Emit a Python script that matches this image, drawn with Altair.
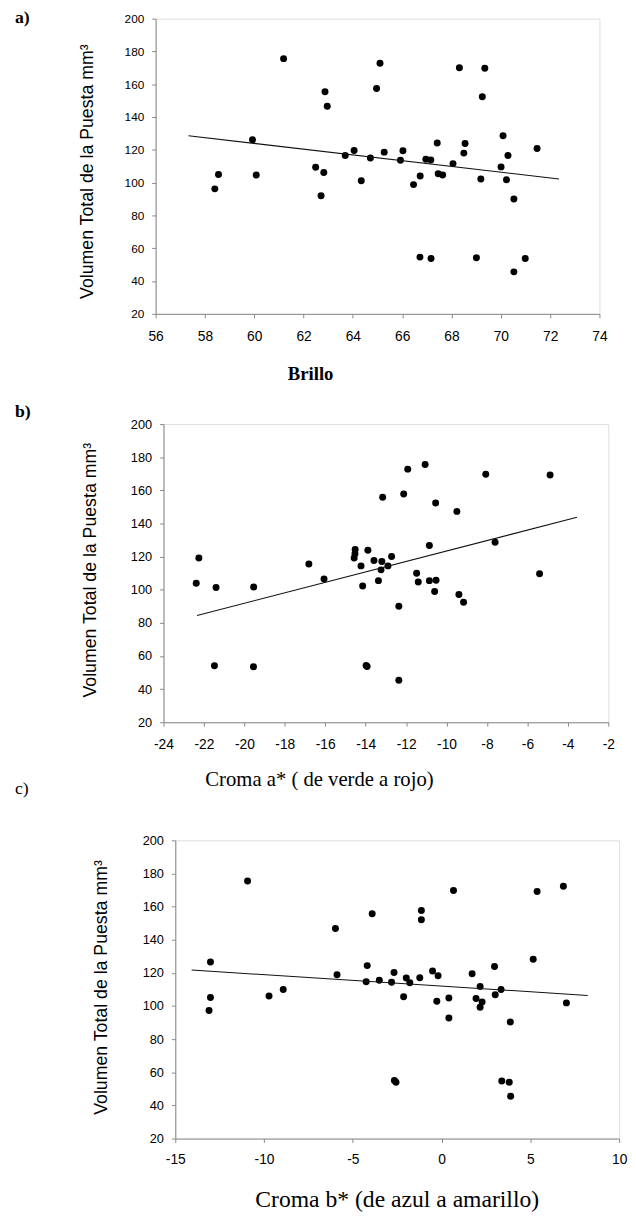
import altair as alt
import pandas as pd

# ---------------- data ----------------
brillo = [61.19, 65.10, 68.32, 69.35, 62.87, 64.96, 69.25, 62.96, 59.93, 70.09, 67.42, 68.55,
          71.47, 64.05, 65.27, 66.03, 63.69, 68.50, 70.29, 64.71, 65.93, 66.96, 67.16, 68.06,
          70.01, 62.49, 62.82, 58.55, 60.08, 67.46, 67.64, 66.73, 64.34, 69.19, 70.23, 58.40,
          66.46, 62.71, 70.53, 66.72, 67.17, 69.01, 70.99, 70.53]
vol_a = [175.6, 172.8, 170.0, 169.8, 155.4, 157.4, 152.4, 146.6, 126.2, 128.6, 124.2, 123.8,
         120.8, 119.6, 118.6, 119.4, 116.6, 118.0, 116.6, 115.0, 113.6, 114.2, 113.8, 111.6,
         109.6, 109.4, 106.2, 105.0, 104.6, 105.4, 104.6, 104.0, 101.2, 102.2, 101.8, 96.2,
         98.8, 92.0, 90.0, 54.6, 53.8, 54.2, 53.8, 45.6]
trend_a_x = [57.33, 72.36]
trend_a_y = [128.6, 102.2]

croma_a = [-22.25, -22.38, -21.40, -19.54, -21.48, -19.55, -16.81, -16.06, -14.52, -14.53,
           -14.57, -13.89, -14.23, -14.15, -13.59, -13.20, -13.24, -12.90, -12.72, -13.37,
           -13.98, -13.93, -12.36, -12.36, -13.16, -12.12, -11.92, -11.06, -10.54, -9.49,
           -10.85, -11.48, -11.40, -10.85, -10.52, -10.59, -9.39, -9.16, -8.06, -7.60,
           -4.88, -5.40]
vol_b = [119.1, 103.9, 101.3, 101.7, 54.1, 53.5, 115.6, 106.5, 124.3, 121.7,
         119.1, 123.9, 114.4, 102.3, 117.6, 117.0, 112.0, 114.4, 120.1, 105.5,
         54.3, 53.7, 90.0, 45.4, 155.8, 157.8, 172.8, 175.6, 152.4, 147.3,
         126.7, 110.0, 104.7, 105.5, 105.7, 98.9, 97.1, 92.4, 169.7, 128.7,
         169.3, 109.6]
trend_b_x = [-22.34, -3.55]
trend_b_y = [84.5, 143.7]

croma_b = [-13.02, -13.02, -13.10, -10.93, -9.72, -8.92, -5.98, -5.89, -3.91, -4.19,
           -4.25, -3.51, -2.82, -2.68, -2.14, -1.99, -1.79, -1.23, -1.14, -1.14,
           -0.51, -0.20, -0.27, 0.41, 0.41, 0.67, 1.72, 1.94, 2.17, 2.28,
           2.17, 2.98, 3.02, 3.35, 3.87, 5.16, 5.38, 6.86, 7.03, -2.66,
           -2.57, 3.39, 3.81, 3.89]
vol_c = [126.6, 105.2, 97.3, 175.5, 106.0, 110.0, 146.8, 118.9, 155.7, 124.4,
         114.7, 115.5, 114.3, 120.3, 105.6, 116.9, 114.1, 117.1, 157.7, 152.1,
         121.1, 118.3, 102.9, 104.8, 92.8, 169.7, 119.5, 104.6, 111.8, 102.5,
         99.3, 123.8, 106.8, 110.0, 90.4, 128.2, 169.1, 172.3, 101.9, 55.0,
         54.0, 54.8, 54.0, 45.5]
trend_c_x = [-14.08, 8.23]
trend_c_y = [121.7, 106.4]

y_ticks = [20, 40, 60, 80, 100, 120, 140, 160, 180, 200]
x_ticks_a = [56, 58, 60, 62, 64, 66, 68, 70, 72, 74]
x_ticks_b = [-24, -22, -20, -18, -16, -14, -12, -10, -8, -6, -4, -2]
x_ticks_c = [-15, -10, -5, 0, 5, 10]

Y_TITLE = "Volumen Total de la Puesta mm³"
HYPHEN = "replace(datum.label, '\u2212', '-')"


def panel(xs, ys, tx, ty, xdom, xticks, xtitle, label, w, h, *,
          xtitle_x, xtitle_y, xtitle_size, xtitle_weight, x_lab_pad,
          ytitle_x, ytitle_y, y_lab_size, x_lab_size, lab_x, lab_y, lab_weight,
          lab_weight_axis="normal"):
    pts_df = pd.DataFrame({"x": xs, "y": ys})
    tr_df = pd.DataFrame({"x": tx, "y": ty})
    xenc = alt.X("x:Q",
                 scale=alt.Scale(domain=xdom, nice=False, zero=False),
                 axis=alt.Axis(values=xticks, title=xtitle, grid=False, tickSize=4,
                               labelPadding=x_lab_pad, labelFontSize=x_lab_size,
                               labelFont="Liberation Sans", labelFontWeight=lab_weight_axis,
                               labelColor="black", labelFlush=False, labelExpr=HYPHEN,
                               titleFont="Liberation Serif", titleFontSize=xtitle_size,
                               titleFontWeight=xtitle_weight, titleColor="black",
                               titleX=xtitle_x, titleY=xtitle_y, titleBaseline="middle",
                               titleAlign="center", titleAngle=0))
    yenc = alt.Y("y:Q",
                 scale=alt.Scale(domain=[20, 200], nice=False, zero=False),
                 axis=alt.Axis(values=y_ticks, title=Y_TITLE, grid=False, tickSize=4,
                               labelPadding=8, labelFontSize=y_lab_size,
                               labelFont="Liberation Sans", labelFontWeight=lab_weight_axis,
                               labelColor="black",
                               titleFont="Liberation Sans", titleFontSize=18,
                               titleFontWeight="normal", titleColor="black",
                               titleX=ytitle_x, titleY=ytitle_y, titleBaseline="middle",
                               titleAlign="center", titleAngle=270))
    pts = alt.Chart(pts_df).mark_circle(size=50, color="black", opacity=1).encode(x=xenc, y=yenc)
    line = alt.Chart(tr_df).mark_line(color="#111111", strokeWidth=1.1).encode(x=xenc, y=yenc)
    lab = alt.Chart(pd.DataFrame({"t": [label]})).mark_text(
        align="left", baseline="middle", font="Liberation Serif", fontSize=18,
        fontWeight=lab_weight, color="black"
    ).encode(text="t:N", x=alt.value(lab_x), y=alt.value(lab_y))
    return alt.layer(pts, line, lab).properties(width=w, height=h)


def spacer():
    return alt.Chart(pd.DataFrame({"v": [0]})).mark_point(opacity=0, size=1).encode(
        x=alt.value(0), y=alt.value(0)
    ).properties(width=1, height=1, view=alt.ViewBackground(stroke="transparent"))


pa = panel(brillo, vol_a, trend_a_x, trend_a_y, [56, 74], x_ticks_a, "Brillo", "a)", 451, 300,
           xtitle_x=157, xtitle_y=61, xtitle_size=19, xtitle_weight="bold", x_lab_pad=12,
           ytitle_x=-69, ytitle_y=155, y_lab_size=12, x_lab_size=14,
           lab_x=-143, lab_y=-1, lab_weight="bold")
pb = panel(croma_a, vol_b, trend_b_x, trend_b_y, [-24, -2], x_ticks_b,
           "Croma a* ( de verde a rojo)", "b)", 452, 303,
           xtitle_x=158, xtitle_y=58, xtitle_size=21, xtitle_weight="normal", x_lab_pad=12,
           ytitle_x=-74, ytitle_y=148, y_lab_size=13, x_lab_size=14,
           lab_x=-151, lab_y=-12, lab_weight="bold")
pc = panel(croma_b, vol_c, trend_c_x, trend_c_y, [-15, 10], x_ticks_c,
           "Croma b* (de azul a amarillo)", "c)", 451, 303,
           xtitle_x=225, xtitle_y=62, xtitle_size=24, xtitle_weight="normal", x_lab_pad=10,
           ytitle_x=-75, ytitle_y=149, y_lab_size=13, x_lab_size=14,
           lab_x=-163, lab_y=-52, lab_weight="normal")

row_a = alt.hconcat(spacer(), pa, spacing=0)
row_b = alt.hconcat(spacer(), pb, spacing=0)
row_c = alt.hconcat(spacer(), pc, spacing=0)
inner = alt.concat(row_b, row_c, columns=1, spacing=-11)
chart = alt.concat(row_a, inner, columns=1, spacing=18).properties(
    padding={"left": 3, "top": -10, "right": 0, "bottom": 0}
).configure_view(stroke="black", strokeWidth=1).configure_axis(
    domainColor="black", tickColor="black", domainWidth=1, tickWidth=1
).configure(background="white")

chart.save("out.html", embed_options={"renderer": "svg", "actions": False})
